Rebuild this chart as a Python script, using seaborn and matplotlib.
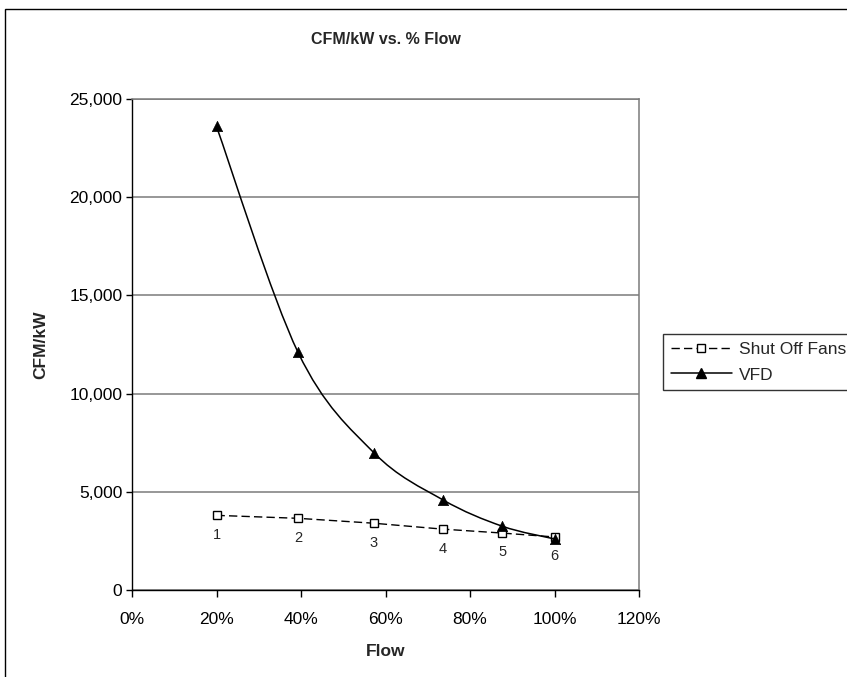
import numpy as np
import pandas as pd
import matplotlib
matplotlib.use('Agg')
import matplotlib.pyplot as plt
import seaborn as sns
from matplotlib.path import Path
from matplotlib.patches import PathPatch, Rectangle
from matplotlib.lines import Line2D
from matplotlib.ticker import FuncFormatter, FixedLocator

# ---- data ----
title = 'CFM/kW vs. % Flow'
x_label = 'Flow'
y_label = 'CFM/kW'
series_names = ['Shut Off Fans', 'VFD']
point_labels = ['1', '2', '3', '4', '5', '6']
flow = [0.200, 0.393, 0.572, 0.735, 0.876, 1.000]
shut_off_fans = [3800, 3650, 3400, 3100, 2900, 2700]
vfd = [23600, 12100, 7000, 4600, 3250, 2600]
x_ticks = [0.0, 0.2, 0.4, 0.6, 0.8, 1.0, 1.2]
y_ticks = [0, 5000, 10000, 15000, 20000, 25000]

df_fans = pd.DataFrame({'flow': flow, 'cfm_kw': shut_off_fans})
df_vfd = pd.DataFrame({'flow': flow, 'cfm_kw': vfd})

# ---- style ----
sns.set_style('white')
plt.rcParams['font.family'] = ['Liberation Sans', 'DejaVu Sans']

W, H = 847, 677
fig = plt.figure(figsize=(W / 100, H / 100), dpi=100)
fig.patch.set_facecolor('white')
ax = fig.add_axes([132 / W, 1 - 590 / H, (639 - 132) / W, (590 - 99) / H])


def smooth_path(xs, ys):
    pts = np.column_stack([xs, ys]).astype(float)
    n = len(pts)
    verts = [pts[0]]
    codes = [Path.MOVETO]
    for i in range(n - 1):
        p0 = pts[i - 1] if i > 0 else pts[i]
        p1 = pts[i]
        p2 = pts[i + 1]
        p3 = pts[i + 2] if i + 2 < n else pts[i + 1]
        c1 = p1 + (p2 - p0) / 6.0
        c2 = p2 - (p3 - p1) / 6.0
        verts += [c1, c2, p2]
        codes += [Path.CURVE4] * 3
    return Path(verts, codes)


# Shut Off Fans: dashed line with open squares
sns.lineplot(data=df_fans, x='flow', y='cfm_kw', ax=ax, color='black',
             linestyle=(0, (6, 3)), linewidth=1.0, marker='s',
             markerfacecolor='white', markeredgecolor='black',
             markeredgewidth=1.0, markersize=6, sort=False,
             estimator=None, zorder=3)

# VFD: smoothed line with filled triangles
ax.add_patch(PathPatch(smooth_path(df_vfd['flow'], df_vfd['cfm_kw']),
                       facecolor='none', edgecolor='black', linewidth=1.1,
                       zorder=3))
sns.scatterplot(data=df_vfd, x='flow', y='cfm_kw', ax=ax, marker='^',
                color='black', edgecolor='black', s=55, linewidth=0.5,
                zorder=4)

# point number labels
for lbl, xv, yv in zip(point_labels, flow, shut_off_fans):
    ax.annotate(lbl, (xv, yv), xytext=(0, -14), textcoords='offset points',
                ha='center', va='center', fontsize=10.5)

ax.set_xlim(x_ticks[0], x_ticks[-1])
ax.set_ylim(y_ticks[0], y_ticks[-1])
ax.xaxis.set_major_locator(FixedLocator(x_ticks))
ax.yaxis.set_major_locator(FixedLocator(y_ticks))
ax.xaxis.set_major_formatter(FuncFormatter(lambda v, _: f'{v * 100:.0f}%'))
ax.yaxis.set_major_formatter(FuncFormatter(lambda v, _: f'{v:,.0f}'))

ax.yaxis.grid(True, color='#7a7a7a', linewidth=1.1)
ax.xaxis.grid(False)
ax.set_axisbelow(True)

for s in ['left', 'bottom']:
    ax.spines[s].set_color('black')
    ax.spines[s].set_linewidth(1.0)
for s in ['top', 'right']:
    ax.spines[s].set_color('#7a7a7a')
    ax.spines[s].set_linewidth(1.1)

ax.tick_params(axis='x', direction='out', length=5, width=1, pad=11,
               labelsize=12.5, colors='black', bottom=True)
ax.tick_params(axis='y', direction='out', length=4, width=1, pad=3,
               labelsize=12.5, colors='black', left=True)

ax.set_xlabel(x_label, fontsize=12.5, fontweight='bold', labelpad=12)
ax.set_ylabel(y_label, fontsize=12.5, fontweight='bold', labelpad=15)

fig.text(386 / W, 1 - 40 / H, title, ha='center', va='center',
         fontsize=11.5, fontweight='bold')

# outer chart border
fig.patches.append(Rectangle((5 / W, -0.1), 1.2, 1 - 9 / H + 0.1,
                             transform=fig.transFigure, fill=False,
                             edgecolor='black', linewidth=1.0))

handles = [
    Line2D([], [], color='black', linestyle=(0, (6, 3)), linewidth=1.0,
           marker='s', markerfacecolor='white', markeredgecolor='black',
           markersize=6),
    Line2D([], [], color='black', linestyle='-', linewidth=1.1,
           marker='^', markerfacecolor='black', markeredgecolor='black',
           markersize=7),
]
leg = fig.legend(handles, series_names, loc='upper left',
                 bbox_to_anchor=(663 / W, 1 - 334 / H),
                 bbox_transform=fig.transFigure, fontsize=12.5,
                 frameon=True, fancybox=False, shadow=False,
                 handlelength=3.5, handletextpad=0.4, borderpad=0.45,
                 labelspacing=0.6, borderaxespad=0)
leg.get_frame().set_edgecolor('black')
leg.get_frame().set_linewidth(1.0)

fig.savefig('out.png', dpi=100, facecolor='white')
